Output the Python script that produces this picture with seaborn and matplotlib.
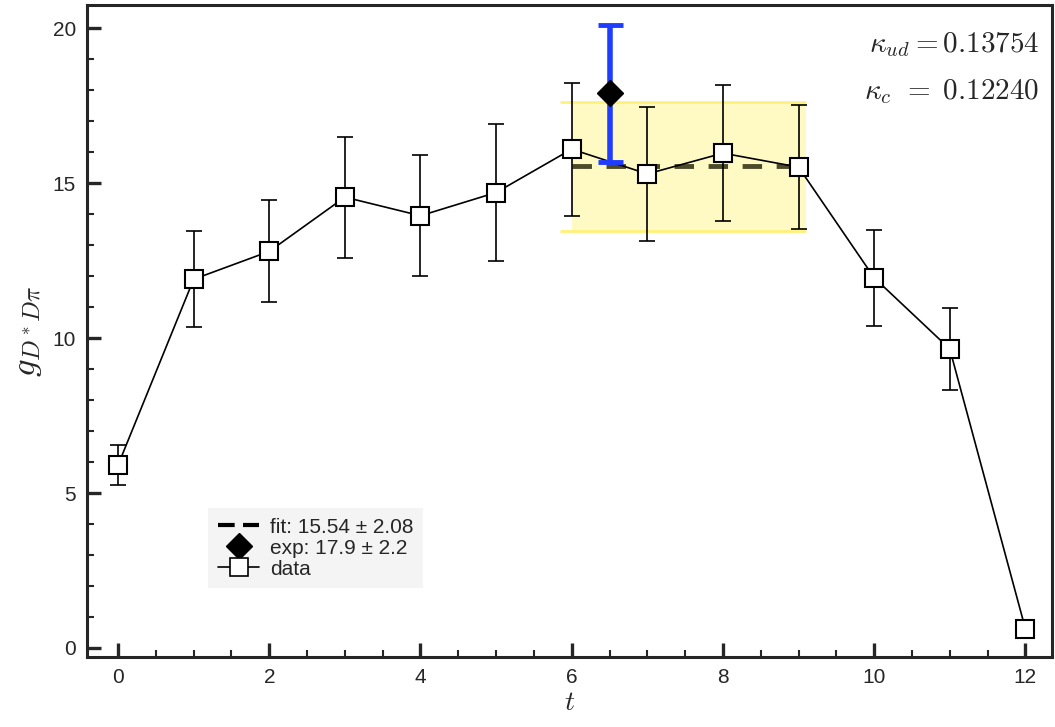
import matplotlib; matplotlib.use('Agg')
import numpy as np
import pandas as pd
import seaborn as sns
import matplotlib.pyplot as plt
from matplotlib.lines import Line2D
from matplotlib.ticker import MultipleLocator

# lattice data: g_{D*Dpi} vs t
t_vals = [0, 1, 2, 3, 4, 5, 6, 7, 8, 9, 10, 11, 12]
g_vals = [5.9, 11.9, 12.8, 14.55, 13.95, 14.7, 16.1, 15.3, 15.97, 15.52, 11.95, 9.65, 0.62]
g_errs = [0.65, 1.55, 1.65, 1.95, 1.95, 2.2, 2.15, 2.15, 2.2, 2.0, 1.55, 1.33, 0.0]

# fit and experiment
fit_val, fit_err = 15.54, 2.08
fit_range = [6.0, 9.1]
exp_t, exp_val, exp_err = 6.5, 17.9, 2.2

df = pd.DataFrame({'t': t_vals, 'g': g_vals, 'err': g_errs})
df_err = df[df['err'] > 0]

sns.set_style('ticks')
plt.rcParams['font.family'] = ['Liberation Sans', 'DejaVu Sans']
plt.rcParams['mathtext.fontset'] = 'cm'

fig = plt.figure(figsize=(10.55, 7.27), dpi=100)
ax = fig.add_axes([0.0825, 0.096, 0.9145, 0.897])

# fit band
ax.fill_between(fit_range, fit_val - fit_err, fit_val + fit_err,
                color='#fff8b0', alpha=0.75, lw=0, zorder=1)
ax.hlines([fit_val - fit_err, fit_val + fit_err], 5.85, fit_range[1],
          color='#fff27a', lw=2, zorder=1)
ax.hlines(fit_val, fit_range[0], 9.0, color='#4d4a2a', lw=3.5,
          linestyles=(0, (4, 3)), zorder=2)

# data error bars + line
ax.errorbar(df_err['t'], df_err['g'], yerr=df_err['err'], fmt='none', ecolor='black',
            elinewidth=1.2, capsize=6, capthick=1.2, zorder=3)
sns.lineplot(data=df, x='t', y='g', ax=ax, color='black', lw=1.2,
             marker='s', markersize=13, markerfacecolor='white',
             markeredgecolor='black', markeredgewidth=1.5, zorder=4)

# experimental point
ax.errorbar([exp_t], [exp_val], yerr=[exp_err], fmt='none', ecolor='#1f3dff',
            elinewidth=4, capsize=9, capthick=3.5, zorder=5)
ax.plot([exp_t], [exp_val], marker='D', ms=13, color='black', ls='none', zorder=6)

ax.set_xlim(-0.41, 12.35)
ax.set_ylim(-0.3, 20.75)
ax.xaxis.set_major_locator(MultipleLocator(2))
ax.xaxis.set_minor_locator(MultipleLocator(0.5))
ax.yaxis.set_major_locator(MultipleLocator(5))
ax.yaxis.set_minor_locator(MultipleLocator(1))
ax.tick_params(which='major', direction='in', length=10, width=2.4, labelsize=15, pad=8)
ax.tick_params(which='minor', direction='in', length=5, width=1.5)
for s in ax.spines.values():
    s.set_linewidth(2.2)

ax.set_xlabel(r'$t$', fontsize=20, labelpad=2)
ax.set_ylabel(r'$g_{D^*D\pi}$', fontsize=25, labelpad=6)

ax.text(0.987, 0.94, r'$\kappa_{ud} = 0.13754$', transform=ax.transAxes,
        ha='right', va='center', fontsize=21)
ax.text(0.987, 0.868, r'$\kappa_{c}\;\, = \;0.12240$', transform=ax.transAxes,
        ha='right', va='center', fontsize=21)

handles = [
    Line2D([], [], color='black', lw=3, ls=(0, (4, 2))),
    Line2D([], [], color='black', marker='D', ms=13, ls='none'),
    Line2D([], [], color='black', lw=1.2, marker='s', ms=13,
           markerfacecolor='white', markeredgewidth=1.2),
]
labels = ['fit: 15.54 \u00b1 2.08', 'exp: 17.9 \u00b1 2.2', 'data']
leg = ax.legend(handles, labels, loc='lower left', bbox_to_anchor=(0.115, 0.09),
                fontsize=15, frameon=True, facecolor='#f4f4f4', edgecolor='none',
                fancybox=False, framealpha=1, handlelength=2.0, handletextpad=0.5,
                labelspacing=0.1, borderpad=0.45)

fig.savefig('out.png', dpi=100)
